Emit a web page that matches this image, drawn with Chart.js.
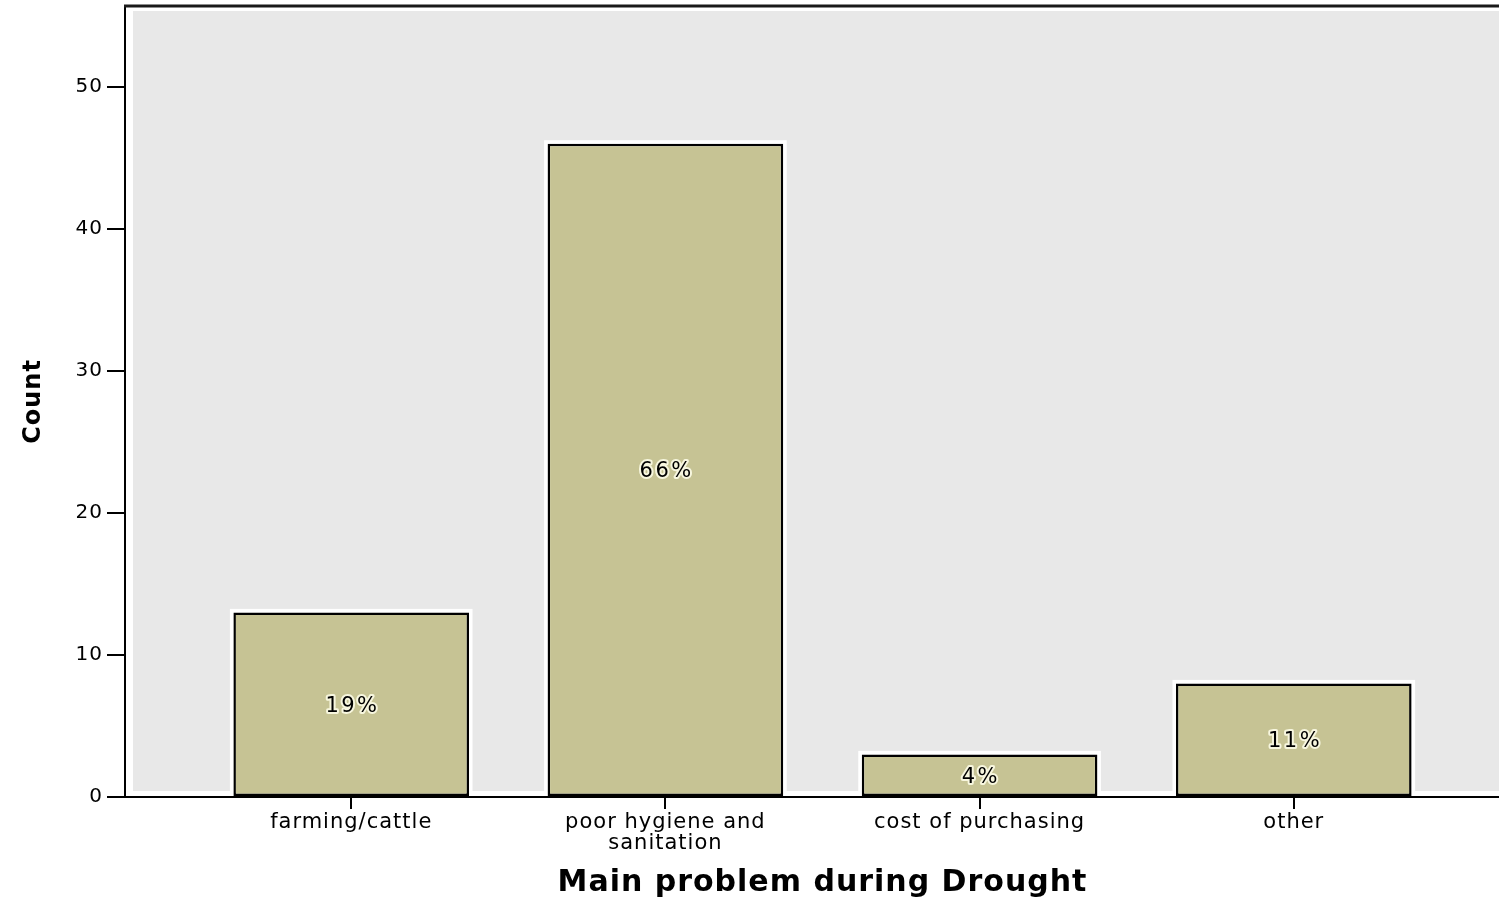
<!DOCTYPE html>
<html><head><meta charset="utf-8">
<script src="https://cdn.jsdelivr.net/npm/chart.js@4.4.0/dist/chart.umd.min.js"></script>
<style>
html,body{margin:0;padding:0;background:#fff;overflow:hidden;}
#wrap{width:1499px;height:902px;overflow:hidden;position:relative;}
canvas{display:block;}
</style></head><body>
<div id="wrap"><canvas id="c" width="1520" height="902"></canvas></div>
<script>
const categories = ['farming/cattle', 'poor hygiene and sanitation', 'cost of purchasing', 'other'];
const counts = [13, 46, 3, 8];
const yTicks = [0, 10, 20, 30, 40, 50];
const xTitle = 'Main problem during Drought';
const yTitle = 'Count';

function wrap(s, maxLen) {
  const words = s.split(' '); const lines = []; let cur = '';
  words.forEach(w => {
    const t = cur ? cur + ' ' + w : w;
    if (t.length > maxLen && cur) { lines.push(cur); cur = w; } else cur = t;
  });
  if (cur) lines.push(cur);
  return lines.length === 1 ? lines[0] : lines;
}
const wrapped = categories.map(c => wrap(c, 18));
const total = counts.reduce((a, b) => a + b, 0);

const bgPlugin = {
  id: 'bg',
  beforeDraw(chart) {
    const ctx = chart.ctx, a = chart.chartArea;
    ctx.letterSpacing = '1px';
    ctx.save();
    ctx.fillStyle = '#fff';
    ctx.fillRect(0, 0, chart.width, chart.height);
    ctx.fillStyle = '#e8e8e8';
    ctx.fillRect(a.left + 8, a.top + 5, a.right - a.left - 8, a.bottom - a.top - 11);
    ctx.restore();
  },
  beforeDatasetsDraw(chart) {
    const ctx = chart.ctx;
    const meta = chart.getDatasetMeta(0);
    ctx.save();
    ctx.fillStyle = '#ffffff';
    meta.data.forEach(el => {
      const p = el.getProps(['x', 'y', 'base', 'width'], true);
      ctx.fillRect(p.x - p.width / 2 - 3.5, p.y - 3.5, p.width + 7, p.base - p.y + 3.5);
    });
    ctx.restore();
  },
  afterDatasetsDraw(chart) {
    const ctx = chart.ctx;
    const meta = chart.getDatasetMeta(0);
    ctx.save();
    ctx.font = '21px "DejaVu Sans"';
    ctx.letterSpacing = '2.5px';
    ctx.textAlign = 'center';
    ctx.textBaseline = 'middle';
    ctx.lineJoin = 'round';
    meta.data.forEach((el, i) => {
      const p = el.getProps(['x', 'y', 'base'], true);
      const t = Math.round(counts[i] / total * 100) + '%';
      const cy = (p.y + p.base) / 2 + 2;
      ctx.strokeStyle = 'rgba(255,255,235,0.85)';
      ctx.lineWidth = 4;
      ctx.strokeText(t, p.x + 1.25, cy);
      ctx.fillStyle = '#000';
      ctx.fillText(t, p.x + 1.25, cy);
    });
    ctx.restore();
  },
  afterDraw(chart) {
    const ctx = chart.ctx, a = chart.chartArea;
    ctx.save();
    ctx.strokeStyle = '#1a1a1a';
    ctx.lineWidth = 3;
    ctx.beginPath();
    ctx.moveTo(a.left - 1, a.top);
    ctx.lineTo(a.right, a.top);
    ctx.stroke();
    ctx.restore();
  }
};

new Chart(document.getElementById('c'), {
  type: 'bar',
  data: {
    datasets: [{
      data: counts.map((v, i) => ({ x: i, y: v })),
      backgroundColor: '#c6c394',
      borderColor: '#000',
      borderWidth: 2.5,
      borderSkipped: false,
      barPercentage: 0.75,
      categoryPercentage: 1.0
    }]
  },
  options: {
    responsive: false,
    animation: false,
    devicePixelRatio: 1,
    layout: { padding: { top: 6, left: 0, right: 0, bottom: 0 } },
    plugins: { legend: { display: false }, tooltip: { enabled: false } },
    scales: {
      x: {
        type: 'linear',
        min: -0.72,
        max: 3.72,
        offset: false,
        afterBuildTicks: s => { s.ticks = categories.map((_, i) => ({ value: i })); },
        afterFit: s => { s.height = 105; s.paddingLeft = 0; s.paddingRight = 0; },
        ticks: {
          callback: v => wrapped[v],
          font: { family: 'DejaVu Sans', size: 21, lineHeight: 1.0 },
          color: '#000',
          padding: 3,
          maxRotation: 0,
          autoSkip: false
        },
        grid: { offset: false, drawOnChartArea: false, drawTicks: true, tickLength: 12, color: '#000', lineWidth: 2 },
        border: { display: true, color: '#000', width: 2 },
        title: {
          display: true, text: xTitle, color: '#000',
          font: { family: 'DejaVu Sans', size: 30, weight: 'bold' },
          padding: { top: 0, bottom: 1 }
        }
      },
      y: {
        min: 0,
        max: 55.7,
        afterBuildTicks: s => { s.ticks = yTicks.map(v => ({ value: v })); },
        afterFit: s => { s.width = 125; s.paddingTop = 0; s.paddingBottom = 0; },
        ticks: { font: { family: 'DejaVu Sans', size: 20 }, color: '#000', padding: 4 },
        grid: { drawOnChartArea: false, drawTicks: true, tickLength: 18, color: '#000', lineWidth: 2 },
        border: { display: true, color: '#000', width: 2 },
        title: {
          display: true, text: yTitle, color: '#000',
          font: { family: 'DejaVu Sans', size: 24, weight: 'bold' },
          padding: { top: 19, bottom: 0 }
        }
      }
    }
  },
  plugins: [bgPlugin]
});
</script>
</body></html>
